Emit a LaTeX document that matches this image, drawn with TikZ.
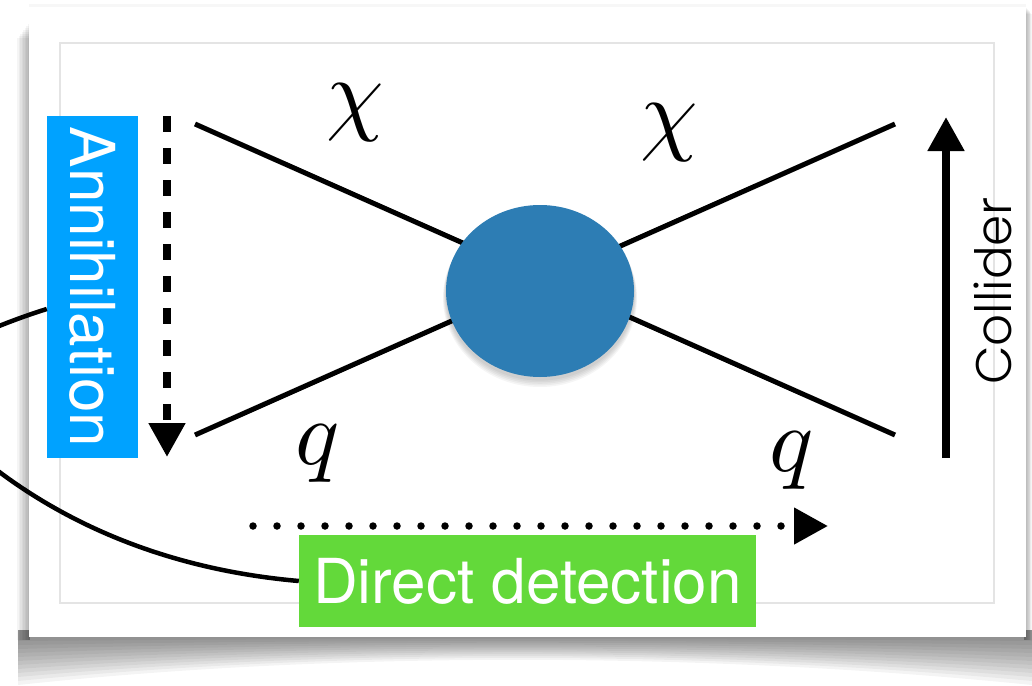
\documentclass[tikz,border=0pt]{standalone}
\usepackage{graphicx}
\usepackage{fontspec}
\setmainfont{TeX Gyre Heros}
\newfontfamily\labfont{TeX Gyre Heros}
\newfontfamily\collfont{Poppins Light}
\usetikzlibrary{arrows.meta,shapes.geometric}
\definecolor{annblue}{RGB}{0,162,255}
\definecolor{ddgreen}{RGB}{99,217,58}
\definecolor{blobblue}{RGB}{45,125,180}
\definecolor{framegray}{RGB}{228,228,228}
\tikzset{
  leg/.style={line width=5pt, black},
  labelbox/.style={inner sep=0pt, text=white, font=\labfont\fontsize{62}{62}\selectfont},
  bigsym/.style={inner sep=0pt},
  tipbig/.style={-{Triangle[width=35pt,length=34pt]}},
}
\newcommand\bigmath[1]{\scalebox{9.2}{$#1$}}
\begin{document}
\begin{tikzpicture}[x=1pt,y=-1pt]
\useasboundingbox (0,0) rectangle (1032,685);
\fill[white] (0,0) rectangle (1032,685);
% shadows of the card
\foreach \i in {1,...,12}{
  \fill[black, opacity=0.045] (18,630) -- (1032,630) -- (1032,{637+4*\i})
    .. controls (700,{637+1.2*\i}) and (330,{637+1.2*\i}) .. (18,{637+4*\i}) -- cycle;
}
\foreach \i in {1,...,8}{
  \fill[black, opacity=0.04] ({29-1.5*\i},{22+2*\i}) rectangle (30,640);
  \fill[black, opacity=0.04] (1024,{6+\i}) rectangle ({1025+0.9*\i},640);
}
\fill[black, opacity=0.03] (29,4) rectangle (1026,8);
% card
\fill[white] (29,7) rectangle (1026,637);
\draw[framegray, line width=1.5pt] (60,43) rectangle (994,603);
% X legs
\coordinate (ul) at (195,124);
\coordinate (ll) at (195,435);
\coordinate (ur) at (895,124);
\coordinate (lr) at (895,435);
\draw[leg] (ul) -- (lr);
\draw[leg] (ll) -- (ur);
% blob
\foreach \i in {1,...,5}{
  \fill[black, opacity=0.04] (540,{293+\i}) ellipse [x radius={94+0.6*\i}, y radius={86+0.6*\i}];
}
\node[ellipse, fill=blobblue, minimum width=188pt, minimum height=172pt, inner sep=0pt] (blob) at (540,291) {};
% particle labels
\node[bigsym] (chiL) at (355,113) {\bigmath{\chi}};
\node[bigsym] (chiR) at (669,133) {\bigmath{\chi}};
\node[bigsym] (qL) at (318,454) {\bigmath{q}};
\node[bigsym] (qR) at (792,461) {\bigmath{q}};
% arrows
\coordinate (annS) at (167,116);
\coordinate (annE) at (167,457);
\draw[line width=8pt, dash pattern=on 16pt off 16pt, tipbig] (annS) -- (annE);
\coordinate (colS) at (946,458);
\coordinate (colE) at (946,117);
\draw[line width=8pt, tipbig] (colS) -- (colE);
\coordinate (ddS) at (253,526);
\coordinate (ddE) at (828,526);
\draw[line width=7.5pt, line cap=round, dash pattern=on 0pt off 24pt, tipbig] (ddS) -- (ddE);
% labels
\node[labelbox, fill=annblue, minimum width=91pt, minimum height=342pt] (ann) at (92.5,287) {\rotatebox{-90}{Annihilation}};
\node[labelbox, fill=ddgreen, minimum width=457pt, minimum height=92pt] (dd) at (527.5,581) {Direct detection};
\node[inner sep=0pt] (coll) at (993,291) {\rotatebox{90}{\collfont\fontsize{50}{50}\selectfont Collider}};
% connecting curve (loops out past the left edge)
\coordinate (loop) at (-80,400);
\draw[line width=4.5pt] ([yshift=-22pt]ann.west) .. controls (-20,330) and (-110,370) .. (loop)
  .. controls (-50,430) and (60,560) .. (dd.west);
\end{tikzpicture}
\end{document}
